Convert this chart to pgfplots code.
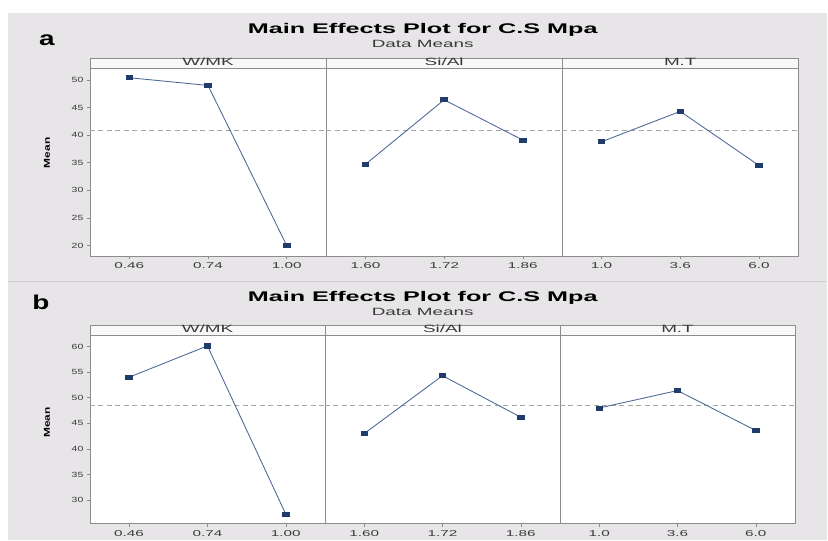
\documentclass[border=0pt]{standalone}
\usepackage{fontspec}
\setmainfont{Liberation Sans}
\newfontfamily\widesf[FakeStretch=1.8]{Liberation Sans}
\newfontfamily\midsf[FakeStretch=1.4]{Liberation Sans}
\usepackage{pgfplots}
\pgfplotsset{compat=1.18}
\usepackage{pgfplotstable}

\definecolor{bggray}{HTML}{E7E5E7}
\definecolor{sepgray}{HTML}{CFCDCF}
\definecolor{framegray}{HTML}{8C8C8C}
\definecolor{stripcol}{HTML}{F8F8F8}
\definecolor{labelcol}{HTML}{3A3A3A}
\definecolor{linecol}{HTML}{4A6694}
\definecolor{markcol}{HTML}{1F3C6B}
\definecolor{meancol}{HTML}{A6A6A6}

% panel a: factor-level means
\pgfplotstableread{
x y
0 50.4
1 49.0
2 20.0
}\wmka
\pgfplotstableread{
x y
0 34.7
1 46.4
2 39.1
}\siala
\pgfplotstableread{
x y
0 38.8
1 44.3
2 34.5
}\mta
% panel b: factor-level means
\pgfplotstableread{
x y
0 54.0
1 60.1
2 27.3
}\wmkb
\pgfplotstableread{
x y
0 43.0
1 54.3
2 46.2
}\sialb
\pgfplotstableread{
x y
0 48.0
1 51.4
2 43.6
}\mtb

\tikzset{
  means/.style={color=linecol, line width=0.85pt, mark=square*, mark size=2.3pt,
    mark options={fill=markcol, draw=markcol, xscale=1.4, yscale=0.9}},
  meanline/.style={color=meancol, line width=0.7pt, dash pattern=on 5pt off 3.5pt},
  strip/.style={draw=framegray, line width=0.6pt, fill=stripcol},
  striplabel/.style={font=\widesf\fontsize{10.5}{11}\selectfont, text=labelcol},
  title/.style={font=\widesf\fontsize{14}{15}\selectfont\bfseries},
  subtitle/.style={font=\widesf\fontsize{10.5}{11}\selectfont, text=labelcol},
  panelletter/.style={font=\midsf\fontsize{20}{21}\selectfont\bfseries},
  ylab/.style={font=\midsf\fontsize{8.5}{9}\selectfont\bfseries, rotate=90},
}
\pgfplotsset{
  mepanel/.style={
    scale only axis, height=188pt,
    xmin=-0.5, xmax=2.5, xtick={0,1,2},
    axis background/.style={fill=white},
    axis line style={framegray, line width=0.6pt},
    tick style={framegray, line width=0.5pt},
    tick align=outside, major tick length=3pt,
    xtick pos=bottom, ytick pos=left,
    /pgf/number format/assume math mode=true,
    xticklabel style={font=\widesf\fontsize{8.5}{9}\selectfont, text=labelcol, yshift=-0.5pt},
    yticklabel style={font=\midsf\fontsize{7.5}{8}\selectfont, text=labelcol},
    clip=false,
  },
  noyticks/.style={ytick=\empty},
}

\begin{document}
\begin{tikzpicture}[x=1pt,y=1pt]
  % page and panel backgrounds
  \fill[white] (0,0) rectangle (828,540);
  \fill[bggray] (8,0) rectangle (828,527);
  \draw[sepgray, line width=1.2pt] (8,258.5) -- (828,258.5);

  % ---------------- panel a ----------------
  \node[panelletter] at (47,500) {a};
  \node[title] at (423,510) {Main Effects Plot for C.S Mpa};
  \node[subtitle] at (423,496) {Data Means};
  \node[ylab] at (47,387) {Mean};

  \begin{axis}[mepanel, width=236.3pt, at={(90pt,284pt)}, anchor=south west,
      ymin=18.13, ymax=52.17, ytick={20,25,...,50},
      xticklabels={0.46,0.74,1.00}]
    \addplot[meanline] coordinates {(-0.5,40.9) (2.5,40.9)};
    \addplot[means] table[x=x,y=y] {\wmka};
    \draw[strip] (rel axis cs:0,1) rectangle ([yshift=10pt]rel axis cs:1,1);
    \node[striplabel] at ([yshift=6.5pt]rel axis cs:0.5,1) {W/MK};
  \end{axis}
  \begin{axis}[mepanel, noyticks, width=236.3pt, at={(326.3pt,284pt)}, anchor=south west,
      ymin=18.13, ymax=52.17,
      xticklabels={1.60,1.72,1.86}]
    \addplot[meanline] coordinates {(-0.5,40.9) (2.5,40.9)};
    \addplot[means] table[x=x,y=y] {\siala};
    \draw[strip] (rel axis cs:0,1) rectangle ([yshift=10pt]rel axis cs:1,1);
    \node[striplabel] at ([yshift=6.5pt]rel axis cs:0.5,1) {Si/Al};
  \end{axis}
  \begin{axis}[mepanel, noyticks, width=236.3pt, at={(562.6pt,284pt)}, anchor=south west,
      ymin=18.13, ymax=52.17,
      xticklabels={1.0,3.6,6.0}]
    \addplot[meanline] coordinates {(-0.5,40.9) (2.5,40.9)};
    \addplot[means] table[x=x,y=y] {\mta};
    \draw[strip] (rel axis cs:0,1) rectangle ([yshift=10pt]rel axis cs:1,1);
    \node[striplabel] at ([yshift=6.5pt]rel axis cs:0.5,1) {M.T};
  \end{axis}

  % ---------------- panel b ----------------
  \node[panelletter] at (41,237) {b};
  \node[title] at (423,242) {Main Effects Plot for C.S Mpa};
  \node[subtitle] at (423,228) {Data Means};
  \node[ylab] at (47,117) {Mean};

  \begin{axis}[mepanel, width=235.2pt, at={(90pt,16pt)}, anchor=south west,
      height=188.3pt, ymin=25.46, ymax=62.14, ytick={30,35,...,60},
      xticklabels={0.46,0.74,1.00}]
    \addplot[meanline] coordinates {(-0.5,48.5) (2.5,48.5)};
    \addplot[means] table[x=x,y=y] {\wmkb};
    \draw[strip] (rel axis cs:0,1) rectangle ([yshift=9.7pt]rel axis cs:1,1);
    \node[striplabel] at ([yshift=6.5pt]rel axis cs:0.5,1) {W/MK};
  \end{axis}
  \begin{axis}[mepanel, noyticks, width=235.2pt, at={(325.2pt,16pt)}, anchor=south west,
      height=188.3pt, ymin=25.46, ymax=62.14,
      xticklabels={1.60,1.72,1.86}]
    \addplot[meanline] coordinates {(-0.5,48.5) (2.5,48.5)};
    \addplot[means] table[x=x,y=y] {\sialb};
    \draw[strip] (rel axis cs:0,1) rectangle ([yshift=9.7pt]rel axis cs:1,1);
    \node[striplabel] at ([yshift=6.5pt]rel axis cs:0.5,1) {Si/Al};
  \end{axis}
  \begin{axis}[mepanel, noyticks, width=235.2pt, at={(560.4pt,16pt)}, anchor=south west,
      height=188.3pt, ymin=25.46, ymax=62.14,
      xticklabels={1.0,3.6,6.0}]
    \addplot[meanline] coordinates {(-0.5,48.5) (2.5,48.5)};
    \addplot[means] table[x=x,y=y] {\mtb};
    \draw[strip] (rel axis cs:0,1) rectangle ([yshift=9.7pt]rel axis cs:1,1);
    \node[striplabel] at ([yshift=6.5pt]rel axis cs:0.5,1) {M.T};
  \end{axis}
\end{tikzpicture}
\end{document}
